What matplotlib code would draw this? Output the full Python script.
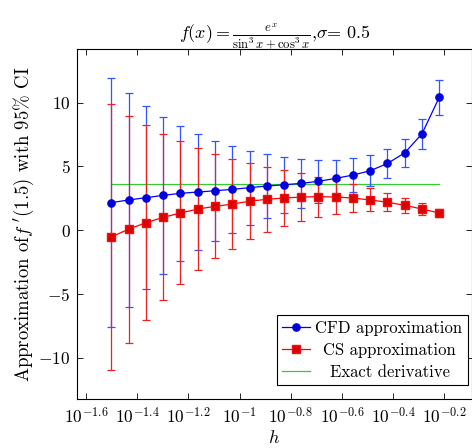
import numpy as np
import matplotlib
matplotlib.use('Agg')
import matplotlib.pyplot as plt
from matplotlib.lines import Line2D

plt.rcParams['font.family'] = 'serif'
plt.rcParams['font.serif'] = ['cmr10', 'DejaVu Serif']
plt.rcParams['mathtext.fontset'] = 'cm'
plt.rcParams['axes.formatter.use_mathtext'] = True
plt.rcParams['axes.unicode_minus'] = True

# step sizes h
h = [0.0316, 0.0369, 0.0431, 0.0504, 0.0588, 0.0687, 0.0802, 0.0937, 0.1094, 0.1278,
     0.1492, 0.1742, 0.2034, 0.2375, 0.2774, 0.3239, 0.3783, 0.4418, 0.5159, 0.6026]

# central finite difference estimates and CI half-widths
cfd = [2.16, 2.37, 2.55, 2.73, 2.89, 2.99, 3.09, 3.20, 3.33, 3.46,
       3.56, 3.67, 3.83, 4.06, 4.32, 4.66, 5.23, 6.06, 7.55, 10.41]
cfd_err = [9.74, 8.38, 7.18, 6.16, 5.28, 4.54, 3.93, 3.38, 2.90, 2.52,
           2.19, 1.91, 1.70, 1.46, 1.34, 1.21, 1.15, 1.12, 1.17, 1.38]

# complex step estimates and CI half-widths
cs = [-0.52, 0.08, 0.59, 1.01, 1.35, 1.66, 1.87, 2.05, 2.27, 2.42,
      2.52, 2.60, 2.63, 2.60, 2.52, 2.37, 2.19, 1.95, 1.66, 1.35]
cs_err = [10.42, 8.90, 7.62, 6.51, 5.60, 4.78, 4.08, 3.50, 2.98, 2.54,
          2.17, 1.85, 1.56, 1.33, 1.12, 0.90, 0.72, 0.60, 0.47, 0.30]

exact = 3.62

fig = plt.figure(figsize=(4.72, 4.48), dpi=100)
ax = fig.add_axes([0.164, 0.109, 0.835, 0.781])

ax.errorbar(h, cfd, yerr=cfd_err, color='#0000ff', lw=0.9, ecolor='#3355ff',
            elinewidth=0.9, capsize=2.6, capthick=0.9, marker='o', ms=5.2,
            mfc='#0000dd', mec='#0000dd', zorder=3)
ax.errorbar(h, cs, yerr=cs_err, color='#ff0000', lw=0.9, ecolor='#ee2222',
            elinewidth=0.9, capsize=2.6, capthick=0.9, marker='s', ms=5.2,
            mfc='#dd0000', mec='#ee1111', zorder=3)
ax.plot([h[0], h[-1]], [exact, exact], color='#33cc33', lw=0.9, zorder=2)

ax.set_xscale('log')
ax.set_xlim(10 ** -1.633, 10 ** -0.094)
ax.set_ylim(-13.23, 14.17)

xt = [-1.6, -1.4, -1.2, -1.0, -0.8, -0.6, -0.4, -0.2]
ax.set_xticks([10 ** v for v in xt])
ax.set_xticklabels([r'$10^{%g}$' % v for v in xt], fontsize=12.5)
ax.minorticks_off()
ax.set_yticks([-10, -5, 0, 5, 10])
ax.set_yticklabels([r'$-10$', r'$-5$', r'$0$', r'$5$', r'$10$'], fontsize=12.5)
ax.tick_params(direction='in', top=True, right=True, length=4, width=0.6, pad=5)
for s in ax.spines.values():
    s.set_linewidth(0.8)

ax.set_xlabel(r'$h$', fontsize=13, labelpad=2)
ax.set_ylabel(r"Approximation of$f\ '(1.5)$ with 95% CI", fontsize=13.5, labelpad=2)
ax.set_title(r'$f(x) = \frac{e^x}{\sin^3 x + \cos^3 x}$,$\sigma$= 0.5', fontsize=13, pad=8)

handles = [
    Line2D([], [], color='#0000ff', lw=0.9, marker='o', ms=5.2, mfc='#0000dd', mec='#0000dd'),
    Line2D([], [], color='#ff0000', lw=0.9, marker='s', ms=5.2, mfc='#dd0000', mec='#ee1111'),
    Line2D([], [], color='#33cc33', lw=0.9),
]
labels = ['CFD approximation', 'CS approximation', 'Exact derivative']
leg = ax.legend(handles, labels, loc='lower right', bbox_to_anchor=(0.990, 0.040),
                fontsize=12, fancybox=False, framealpha=1, edgecolor='black',
                borderpad=0.3, handlelength=1.7, handletextpad=0.3,
                labelspacing=0.42, borderaxespad=0)
leg.get_frame().set_linewidth(0.8)
# centre the shorter labels like the original legend
for t, dx in zip(leg.get_texts(), [0, 8, 15]):
    t.set_position((dx, 0))

fig.savefig('out.png', dpi=100)
